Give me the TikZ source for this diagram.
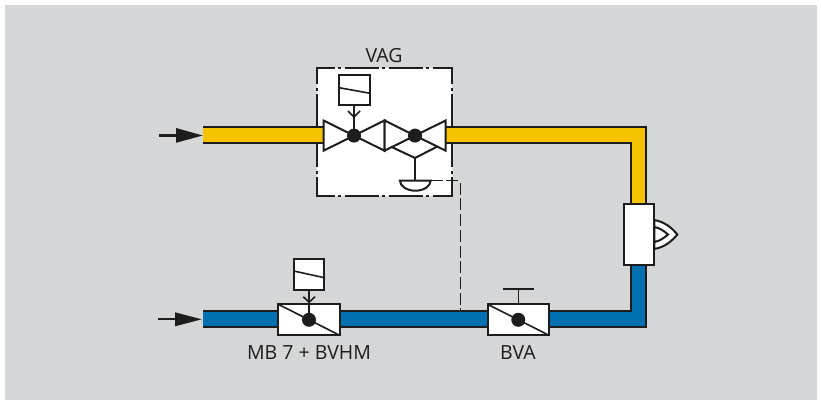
\documentclass[tikz,border=0pt]{standalone}
\usepackage{fontspec}
\setmainfont{Open Sans}
\usetikzlibrary{calc}
\definecolor{bgc}{HTML}{D5D6D8}
\definecolor{ink}{HTML}{1D1D1B}
\definecolor{yel}{HTML}{F7C200}
\definecolor{blu}{HTML}{0070B0}
\tikzset{
  x=1pt,y=-1pt,
  lw/.style={line width=2pt,draw=ink},
  thin line/.style={line width=1.6pt,draw=ink},
  box/.style={draw=ink,line width=2pt,fill=white,inner sep=0pt,outer sep=0pt},
  ball/.style={circle,fill=ink,draw=none,minimum size=14pt,inner sep=0pt,outer sep=0pt},
  lbl/.style={text=ink,font=\fontsize{19.5}{22}\selectfont,inner sep=0pt},
  arrowbody/.style={draw=ink,line width=2.2pt},
  arrowhead/.style={fill=ink,draw=none},
  hframe/.style={draw=ink,line width=2.4pt,dash pattern=on 34pt off 3.5pt on 3pt off 3.5pt,dash phase=15.5pt},
  vframe/.style={draw=ink,line width=2.4pt,dash pattern=on 31.5pt off 3.5pt on 3pt off 3.5pt,dash phase=14pt},
}
\begin{document}
\begin{tikzpicture}
\useasboundingbox (0,0) rectangle (821,403);
\fill[bgc] (5,5) rectangle (817,400);
% VAG frame
\fill[white] (317,68) rectangle (452,196);
\draw[hframe] (316,68) -- (453.2,68);
\draw[hframe] (316,196) -- (453.2,196);
\draw[vframe] (317,67) -- (317,197.2);
\draw[vframe] (452,67) -- (452,197.2);
% pipes
\fill[yel] (203,127.5) rectangle (324,143.5);
\fill[yel] (445,127.5) -- (645.5,127.5) -- (645.5,215) -- (631,215) -- (631,143.5) -- (445,143.5) -- cycle;
\fill[blu] (203,311) -- (631,311) -- (631,255) -- (645.5,255) -- (645.5,326.7) -- (203,326.7) -- cycle;
\draw[lw] (203,127.5) -- (324,127.5);
\draw[lw] (203,143.5) -- (324,143.5);
\draw[lw] (445,127.5) -- (645.5,127.5) -- (645.5,215);
\draw[lw] (445,143.5) -- (631,143.5) -- (631,215);
\draw[lw] (203,311) -- (631,311) -- (631,255);
\draw[lw] (203,326.7) -- (645.5,326.7) -- (645.5,255);
% inlet arrows
\coordinate (ya) at (158.5,135.5); \coordinate (yb) at (178,135.5); \coordinate (yt) at (202.7,135.5);
\draw[arrowbody] (ya) -- (yb);
\fill[arrowhead] (176,128) -- (yt) -- (176,142.8) -- cycle;
\coordinate (ba) at (157.5,319.3); \coordinate (bb) at (177,319.3); \coordinate (bt) at (201.7,319.3);
\draw[arrowbody] (ba) -- (bb);
\fill[arrowhead] (175,312.3) -- (bt) -- (175,326.3) -- cycle;
% VAG
\node[lbl] (vag) at (384,56) {VAG};
\node[box,minimum width=31pt,minimum height=30.5pt] (s1) at (354.5,90) {};
\draw[thin line] (339,87.7) -- (370,93.3);
\coordinate (c1) at (354,135.6);
\coordinate (c2) at (415,135.6);
\draw[lw,fill=white] (323.5,120.5) -- (c1) -- (323.5,150.7) -- cycle;
\draw[lw,fill=white] (384.5,120.5) -- (c1) -- (384.5,150.7) -- cycle;
\draw[lw,fill=white] (384.5,120.5) -- (c2) -- (384.5,150.7) -- cycle;
\draw[lw,fill=white] (445.7,120.5) -- (c2) -- (445.7,150.7) -- cycle;
\draw[lw] (s1.south -| c1) -- (c1);
\draw[thin line] (348,111) -- (354,117) -- (360,111);
\node[ball] (b1) at (c1) {};
\node[ball] (b2) at (c2) {};
\coordinate (dia) at (415,158);
\draw[lw] (391,146.7) -- (dia) -- (437,146.7);
\coordinate (m) at (415,180.7);
\draw[lw] (dia) -- (m);
\draw[lw,fill=white] (400,180.7) arc[start angle=180,end angle=360,x radius=15.3,y radius=-10] -- cycle;
\coordinate (dashend) at (460,311);
\draw[draw=ink,line width=1pt,dash pattern=on 12pt off 3.7pt] (430.7,180.7) -- (460,180.7) -- (dashend);
% MB7
\node[box,minimum width=61.4pt,minimum height=31pt] (mb) at (309,319.8) {};
\draw[thin line] (mb.north west) -- (mb.south east);
\node[box,minimum width=30.6pt,minimum height=30.7pt] (s2) at (309,274.3) {};
\draw[thin line] (293.7,271) -- (324.3,277.7);
\draw[lw] (s2.south) -- (mb.center);
\draw[thin line] (303.3,296.7) -- (309,302.3) -- (315,296.7);
\node[ball] (b3) at (mb.center) {};
\node[lbl] (mbl) at (309,353) {MB 7 + BVHM};
% BVA
\node[box,minimum width=61.4pt,minimum height=31pt] (bva) at (518.3,319.8) {};
\draw[thin line] (bva.north west) -- (bva.south east);
\coordinate (bt2) at (518.3,289.3);
\draw[thin line] (bva.north) -- (bt2);
\draw[lw] (503,289.3) -- (533.7,289.3);
\node[ball] (b4) at (bva.center) {};
\node[lbl] (bval) at (518,353) {BVA};
% sensor
\draw[lw,fill=white] (654.3,220) .. controls (665,222) and (672,228) .. (677.3,234.5) .. controls (672,241) and (665,247) .. (654.3,249) -- cycle;
\draw[lw,fill=white] (654.3,227) .. controls (660,228) and (664,231) .. (668,234.5) .. controls (664,238) and (660,241) .. (654.3,242) -- cycle;
\node[box,minimum width=30.3pt,minimum height=61pt] (sens) at (639.2,234.5) {};
\end{tikzpicture}
\end{document}
